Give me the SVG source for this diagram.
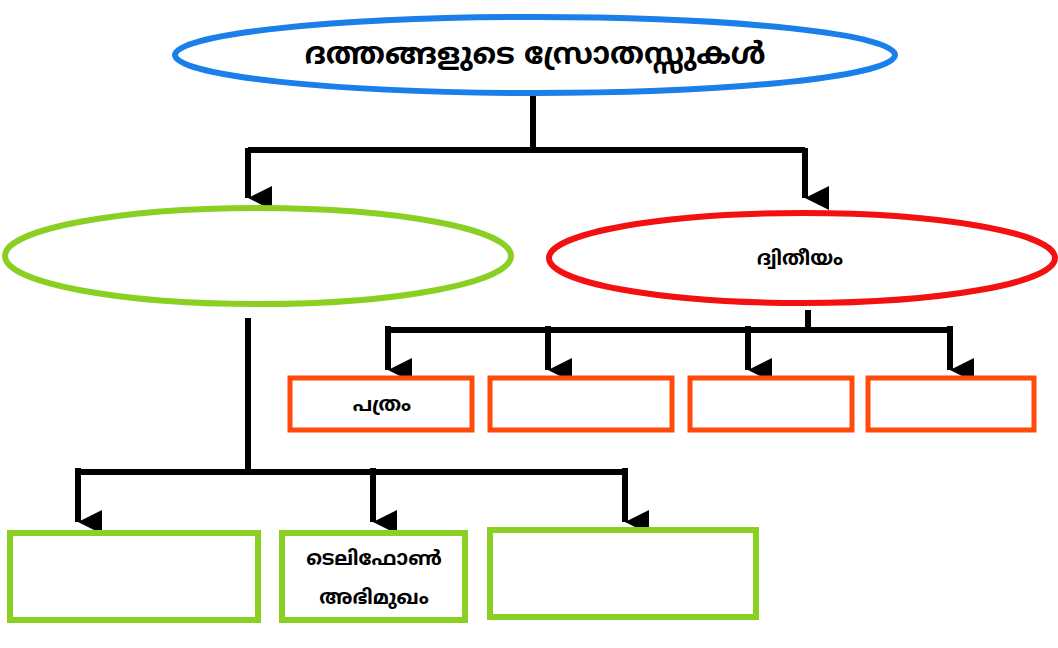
<svg xmlns="http://www.w3.org/2000/svg" width="1058" height="648" viewBox="0 0 1058 648">
<defs>
<style>
text{font-family:"Noto Sans Malayalam","Noto Sans","DejaVu Sans",sans-serif;font-weight:bold;fill:#000;text-anchor:middle}
.c{fill:none;stroke:#000;stroke-width:6}
.g{fill:#fff;stroke:#8ad022;stroke-width:6}
.o{fill:#fff;stroke:#ff4a0a;stroke-width:5}
</style>
<marker id="a" viewBox="0 0 10 10" refX="5" refY="10" markerWidth="4" markerHeight="5" orient="auto" markerUnits="strokeWidth"><path d="M0,0L10,0L5,10z" fill="#000"/></marker>
</defs>
<rect width="1058" height="648" fill="#fff"/>
<g id="connectors" class="c">
<path d="M533,93V150M248,150H805"/>
<path d="M248,150V200" marker-end="url(#a)" transform="translate(0,-2)"/>
<path d="M805,150V200" marker-end="url(#a)" transform="translate(0,-2)"/>
<path d="M808,310V330M388,330H950"/>
<path d="M388,330V374" marker-end="url(#a)" transform="translate(0,-4)"/>
<path d="M548,330V374" marker-end="url(#a)" transform="translate(0,-4)"/>
<path d="M748,330V374" marker-end="url(#a)" transform="translate(0,-4)"/>
<path d="M950,330V374" marker-end="url(#a)" transform="translate(0,-4)"/>
<path d="M248,318V472M78,472H625"/>
<path d="M78,472V526" marker-end="url(#a)" transform="translate(0,-4)"/>
<path d="M373,472V526" marker-end="url(#a)" transform="translate(0,-4)"/>
<path d="M625,472V526" marker-end="url(#a)" transform="translate(0,-4)"/>
</g>
<g id="n-title"><ellipse cx="535" cy="55" rx="360" ry="38" fill="#fff" stroke="#1a7fe8" stroke-width="6"/><text x="535" y="64" font-size="30">ദത്തങ്ങളുടെ സ്രോതസ്സുകൾ</text></g>
<g id="n-primary"><ellipse cx="258" cy="256" rx="253" ry="48" class="g"/></g>
<g id="n-secondary"><ellipse cx="802" cy="258" rx="253" ry="45" fill="#fff" stroke="#f21010" stroke-width="6"/><text x="800" y="265" font-size="20">ദ്വിതീയം</text></g>
<g id="o1"><rect x="290" y="378" width="182" height="52" class="o"/><text x="382" y="411" font-size="20">പത്രം</text></g>
<g id="o2"><rect x="490" y="378" width="182" height="52" class="o"/></g>
<g id="o3"><rect x="690" y="378" width="162" height="52" class="o"/></g>
<g id="o4"><rect x="868" y="378" width="166" height="52" class="o"/></g>
<g id="g1"><rect x="10" y="533" width="248" height="87" class="g"/></g>
<g id="g2"><rect x="282" y="533" width="183" height="87" class="g"/><text x="374" y="565" font-size="20">ടെലിഫോൺ</text><text x="374" y="604" font-size="20">അഭിമുഖം</text></g>
<g id="g3"><rect x="490" y="530" width="266" height="87" class="g"/></g>
</svg>
